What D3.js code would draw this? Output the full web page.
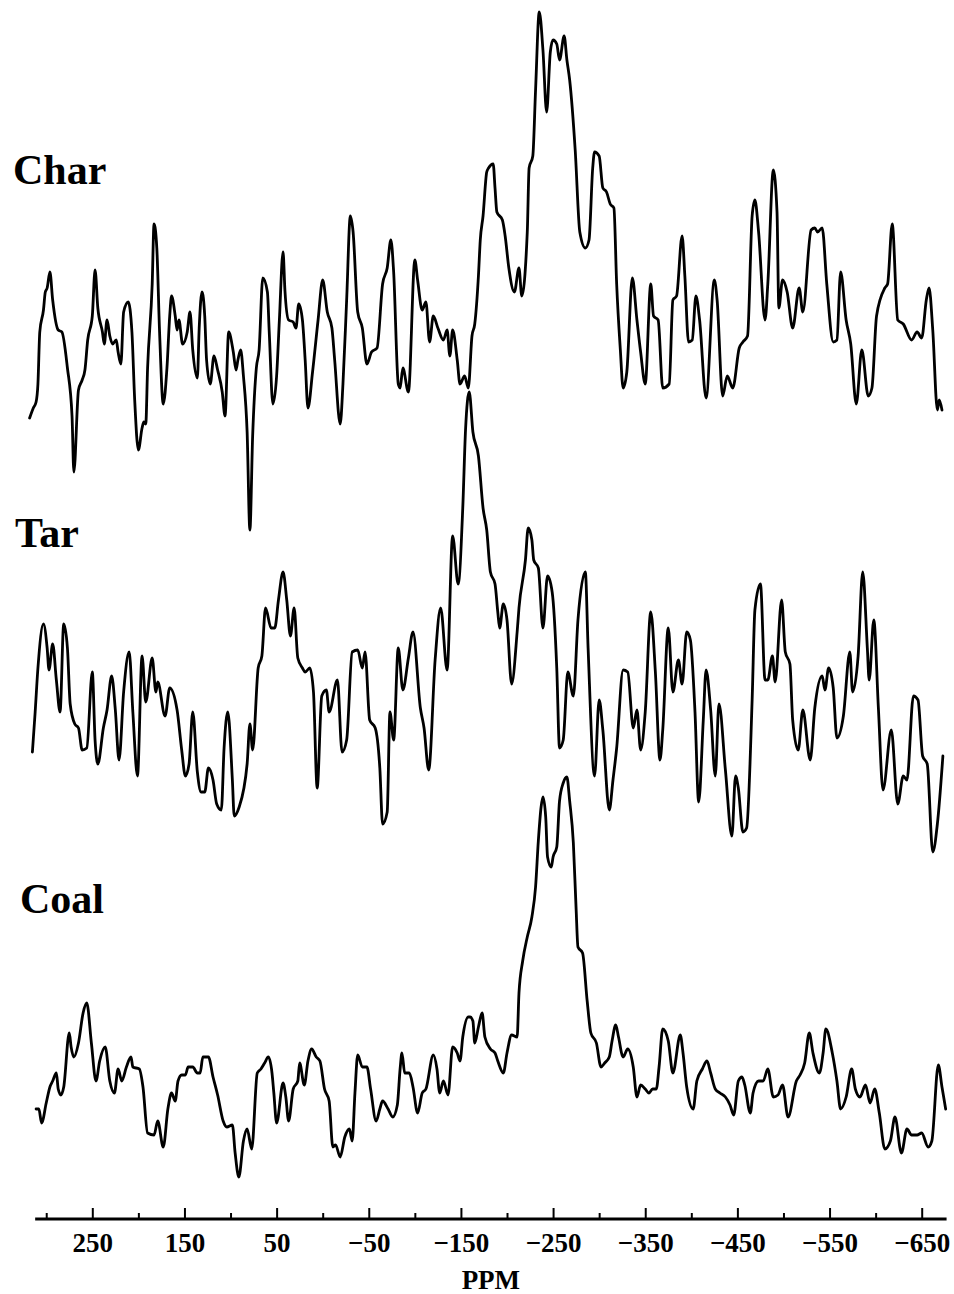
<!DOCTYPE html>
<html>
<head>
<meta charset="utf-8">
<script src="https://cdn.jsdelivr.net/npm/d3@7"></script>
<style>
  html, body { margin: 0; padding: 0; background: #fff; }
  svg { display: block; }
</style>
</head>
<body>
<svg id="chart" width="954" height="1294"></svg>
<script>
// ---- Data ----
const seriesNames = ["Char", "Tar", "Coal"];

const majorTicks = [250, 150, 50, -50, -150, -250, -350, -450, -550, -650];
const tickLabels = ["250", "150", "50", "\u221250", "\u2212150", "\u2212250", "\u2212350", "\u2212450", "\u2212550", "\u2212650"];
const minorTicks = [300, 200, 100, 0, -100, -200, -300, -400, -500, -600];
const axisExtent = [312, -677];
const axisTitle = "PPM";

// [ppm, intensity] pairs
const charSpectrum = [[318,30.5],[314,33],[311,34.5],[309,39],[307,52],[303,57.5],[301,62],[299,63],[296,67],[293,60],[287,52.5],[283,52],[277,43],[272,31],[270,17],[265,37.5],[261,40],[258,42.5],[255,50],[250,56],[247,67.5],[244,58],[239,52],[237,49],[234,55],[231,51],[228,49],[224,50],[222,47],[219,44],[216,57],[211,59.5],[207,52],[204,35],[200,22.5],[196,28],[194,29.5],[192,29],[190,43],[185,64],[183,79],[180,73],[177,52],[173,34],[169,43],[166,56],[164,61],[160,56],[158,52.5],[156,55],[152,49],[147,52],[144,57],[141,47.5],[136,40.5],[134,53],[131,62],[128,56],[126,45],[122,39],[118,46],[114,42.5],[109,37],[106,31],[102,52],[97,47],[94,42.5],[92,45],[89,47.5],[86,41],[82,27],[79,2.5],[76,26],[72,43],[69,47.5],[65,65.5],[60,62],[58,52],[54,34],[50,41],[47,55],[43,72],[41,62.5],[37,55],[32,54.5],[29,53],[26,59],[22,55],[19,45],[16,33],[11,42],[5,55],[0,65],[-5,57],[-10,53],[-13,45],[-19,29],[-22,39],[-26,60],[-30,81],[-33,77],[-38,57],[-43,53],[-48,44],[-53,47],[-59,48],[-65,64],[-70,68],[-74,75],[-77,67],[-82,39],[-84,38],[-87,43],[-93,37],[-100,70],[-103,65],[-108,57.5],[-112,59.5],[-116,49.5],[-120,56],[-125,53],[-131,50],[-135,52.5],[-138,46],[-141,52.5],[-146,45],[-149,39],[-154,41],[-158,38],[-162,51],[-165,54],[-169,66],[-171,75],[-174,81],[-178,92],[-180,93],[-185,94],[-187,88],[-189,82],[-195,80],[-198,76],[-202,68],[-208,62],[-213,68],[-216,61],[-222,77],[-224,93],[-228,96],[-231,112.5],[-235,132],[-239,122.5],[-243,107],[-247,122],[-250,125],[-254,124],[-257,120],[-262,126],[-265,120],[-268,115],[-274,97.5],[-279,77],[-285,73],[-289,75],[-293,93],[-295,97],[-300,96],[-304,88],[-308,87],[-312,84],[-316,83],[-319,64],[-323,47.5],[-326,38],[-330,42],[-336,65.5],[-341,55],[-345,47],[-350,39],[-356,64],[-359,56],[-364,55],[-369,38],[-376,39],[-380,60],[-384,61],[-390,76],[-393,66],[-397,49.5],[-401,50],[-405,61],[-409,55],[-416,35.5],[-425,65],[-428,60],[-434,36],[-439,41],[-445,38],[-452,48],[-456,49.5],[-461,51],[-466,81],[-469,85],[-473,77],[-480,55],[-483,64],[-489,92.5],[-493,82],[-495,58],[-499,65],[-504,62],[-510,53],[-517,63],[-521,57],[-530,77.5],[-534,78],[-537,77],[-542,78],[-547,64],[-554,49.5],[-558,50],[-562,67],[-568,55],[-573,49],[-579,34],[-585,47.5],[-592,36],[-596,38],[-601,56],[-610,63],[-613,64],[-618,79],[-624,55],[-630,54],[-639,50],[-645,52],[-650,50.5],[-655,60],[-658,63],[-662,52.5],[-667,32.5],[-669,35],[-672,32.5]];

const tarSpectrum = [[315,27],[312,37],[309,48],[303,59],[299,53],[297,47.5],[293,54],[289,45],[285,37],[281,59],[277,53],[274,39],[269,34],[265,33],[261,27.5],[256,28],[250,47],[247,30],[244,24],[238,33],[234,37.5],[229,46],[225,37.5],[221,25],[216,42],[210,52],[206,37],[201,21],[196,51],[192,39.5],[185,50.5],[181,42],[179,44.5],[171,36],[166,43],[158,37.5],[153,27.5],[149,21],[145,24],[141,37],[136,22],[132,17],[128,17],[124,23],[119,20],[115,14],[110,12.5],[107,28],[103,37],[98,20],[96,11],[91,13],[82,24],[79,34],[76,27.5],[70,48],[66,51],[62,63],[56,58],[52,58],[48,65],[43,72],[39,65],[35,56],[31,63],[27,50.5],[22,48],[19,47],[14,48],[10,42],[6,18],[1,41],[-4,42.5],[-7,37],[-16,45],[-21,27],[-26,30],[-32,52],[-38,52.5],[-43,48],[-46,52],[-51,35],[-57,33],[-62,23],[-65,9],[-70,12],[-73,37],[-77,30],[-82,53],[-87,42.5],[-93,50.5],[-98,57],[-106,38],[-110,33],[-115,22.5],[-122,50],[-128,63],[-135,47.5],[-141,81],[-147,69],[-152,88],[-155,107.5],[-159,117],[-163,107],[-169,101],[-174,88],[-178,82.5],[-182,72],[-187,69],[-190,62],[-192,58],[-196,64],[-200,60],[-205,44],[-211,57],[-213,63],[-220,75],[-223,83],[-227,80],[-229,75],[-234,73],[-239,58],[-244,71],[-249,67],[-254,48],[-257,28],[-261,30],[-266,47],[-272,41],[-277,60],[-285,72],[-288,53],[-295,21],[-300,40],[-304,32.5],[-311,12.5],[-315,20],[-319,28],[-326,47.5],[-331,47],[-337,33],[-341,37.5],[-345,27.5],[-350,37],[-356,62],[-361,47],[-366,25],[-369,32.5],[-375,58],[-380,42],[-386,50],[-390,44],[-395,57],[-399,55],[-404,37],[-408,14.5],[-413,35],[-416,47.5],[-421,37.5],[-426,21],[-430,39],[-437,22.5],[-444,6],[-448,21],[-451,18],[-456,7],[-460,8],[-466,40],[-469,62.5],[-475,69],[-480,45],[-483,45],[-488,51],[-491,44.5],[-498,65],[-502,52],[-507,49],[-510,35],[-516,27.5],[-521,37.5],[-529,25],[-534,38],[-542,46],[-545,42.5],[-549,48],[-554,43],[-558,30.5],[-565,36],[-572,52],[-575,42],[-581,51],[-586,72],[-591,53],[-593,45],[-598,60],[-603,38],[-608,17.5],[-617,32.5],[-624,14],[-630,21],[-634,20],[-641,41],[-646,40],[-651,26],[-656,24],[-662,2],[-667,9],[-673,26]];

const coalSpectrum = [[311,19],[308,19],[305,15.5],[300,20.5],[296,24.5],[293,26],[289,28],[287,24],[284,22.5],[281,24.5],[275,38],[273,34.5],[270,32],[265,35.5],[260,43],[256,45.5],[251,35.5],[246,26],[242,31],[236,34.5],[231,26],[226,23],[222,29],[218,26],[213,29.5],[208,32],[206,29.5],[199,29],[195,24.5],[190,13],[183,12.5],[179,16],[173,9.5],[168,19],[164,23],[160,21],[157,26],[153,27.5],[149,27.5],[146,29.5],[141,29.5],[136,28],[133,28],[130,32],[124,32],[119,27],[114,22.5],[108,16],[104,14.5],[98,15],[95,8],[91,2],[86,11],[82,14],[77,9],[71,28],[67,29],[63,30.5],[59,32],[55,28],[53,23],[50,15.5],[43,25.5],[40,22],[37,16],[32,24],[27,26],[25,30.5],[20,25],[16,31],[12,34],[7,32],[3,31],[-2,24],[-7,21],[-11,9.5],[-14,10],[-19,7],[-24,12],[-29,14],[-32,11],[-35,23],[-38,32.5],[-43,29.5],[-48,29.5],[-52,24],[-58,16],[-62,19],[-65,21],[-71,19],[-76,17],[-81,20],[-84,29],[-86,33],[-89,28],[-94,28],[-98,24.5],[-103,18],[-108,23],[-112,24],[-120,32.5],[-124,29],[-127,23],[-131,26],[-136,22.5],[-141,34.5],[-146,33],[-149,31],[-152,37],[-158,42],[-160,42],[-163,41],[-165,35.5],[-169,39.5],[-173,43],[-176,37],[-182,34],[-187,33],[-190,31],[-196,28],[-200,33],[-205,37.5],[-211,37],[-213,48],[-217,56],[-222,62],[-227,67],[-231,74.5],[-234,86],[-237,94.5],[-239,97],[-242,92],[-244,82],[-248,79.5],[-250,82],[-254,84.5],[-257,96],[-261,100.5],[-265,102],[-268,96],[-272,85.5],[-275,69],[-277,59.5],[-282,58],[-287,46],[-291,38],[-297,35.5],[-302,29.5],[-306,30.5],[-311,32],[-314,36],[-318,40],[-321,37],[-326,32],[-331,34],[-337,29.5],[-341,22],[-345,25],[-350,24],[-354,23],[-358,24],[-362,24],[-365,29.5],[-369,39],[-375,36],[-380,28],[-388,37.5],[-391,33],[-395,24.5],[-402,19],[-406,26],[-412,29],[-417,31],[-421,28],[-426,24],[-431,23],[-437,22],[-442,20],[-446,17.5],[-451,26],[-455,27],[-458,25],[-464,18],[-467,23],[-473,26],[-478,26],[-483,29],[-489,22],[-494,22.5],[-499,25],[-505,17],[-514,26],[-518,27.5],[-523,30.5],[-528,38],[-532,33],[-539,28],[-543,33],[-546,39],[-553,33],[-558,26],[-562,19],[-568,22],[-574,29],[-578,24],[-583,22],[-589,25],[-594,20.5],[-599,24],[-604,18],[-610,9],[-616,11],[-621,17],[-628,8],[-634,14],[-639,12.5],[-645,12.5],[-650,13],[-657,9.5],[-661,11],[-668,30],[-672,24.5],[-676,19]];

const spectra = [charSpectrum, tarSpectrum, coalSpectrum];
// vertical stacking offsets (intensity units)
const stackOffsets = [161.25, 81.25, 0];

// ---- Layout ----
const svg = d3.select("#chart");
const serif = "'Liberation Serif', 'Times New Roman', Times, serif";
const axisY = 1219;

const x = d3.scaleLinear().domain([250, -650]).range([92.3, 921.7]);
const y = d3.scaleLinear().domain([0, 300]).range([1185, -15]);

const line = d3.line()
  .x(d => x(d[0]))
  .y(d => y(d[1]))
  .curve(d3.curveMonotoneX);

spectra.forEach((s, i) => {
  const off = stackOffsets[i];
  svg.append("path")
    .datum(s.map(d => [d[0], d[1] + off]))
    .attr("d", line)
    .attr("fill", "none")
    .attr("stroke", "#000")
    .attr("stroke-width", 2.8)
    .attr("stroke-linejoin", "round")
    .attr("stroke-linecap", "round");
});

// series labels
const labelPos = [[13, 184], [15, 547], [20, 913]];
seriesNames.forEach((n, i) => {
  svg.append("text")
    .attr("x", labelPos[i][0])
    .attr("y", labelPos[i][1])
    .attr("font-family", serif)
    .attr("font-weight", "bold")
    .attr("font-size", 42)
    .attr("fill", "#000")
    .text(n);
});

// axis line
svg.append("line")
  .attr("x1", x(axisExtent[0])).attr("x2", x(axisExtent[1]))
  .attr("y1", axisY).attr("y2", axisY)
  .attr("stroke", "#000").attr("stroke-width", 3);

// major ticks with labels
const gMajor = svg.append("g")
  .attr("transform", `translate(0,${axisY})`)
  .call(d3.axisBottom(x).tickValues(majorTicks).tickSize(-11).tickPadding(14)
        .tickFormat((d, i) => tickLabels[i]));
gMajor.select(".domain").remove();
gMajor.selectAll(".tick line").attr("stroke", "#000").attr("stroke-width", 2);
gMajor.selectAll(".tick text")
  .attr("font-family", serif).attr("font-weight", "bold")
  .attr("font-size", 27).attr("fill", "#000");

// minor ticks
const gMinor = svg.append("g")
  .attr("transform", `translate(0,${axisY})`)
  .call(d3.axisBottom(x).tickValues(minorTicks).tickSize(-6).tickFormat(""));
gMinor.select(".domain").remove();
gMinor.selectAll(".tick line").attr("stroke", "#000").attr("stroke-width", 2);

// axis title
svg.append("text")
  .attr("x", (x(axisExtent[0]) + x(axisExtent[1])) / 2)
  .attr("y", 1289)
  .attr("text-anchor", "middle")
  .attr("font-family", serif).attr("font-weight", "bold")
  .attr("font-size", 27).attr("fill", "#000")
  .text(axisTitle);
</script>
</body>
</html>
